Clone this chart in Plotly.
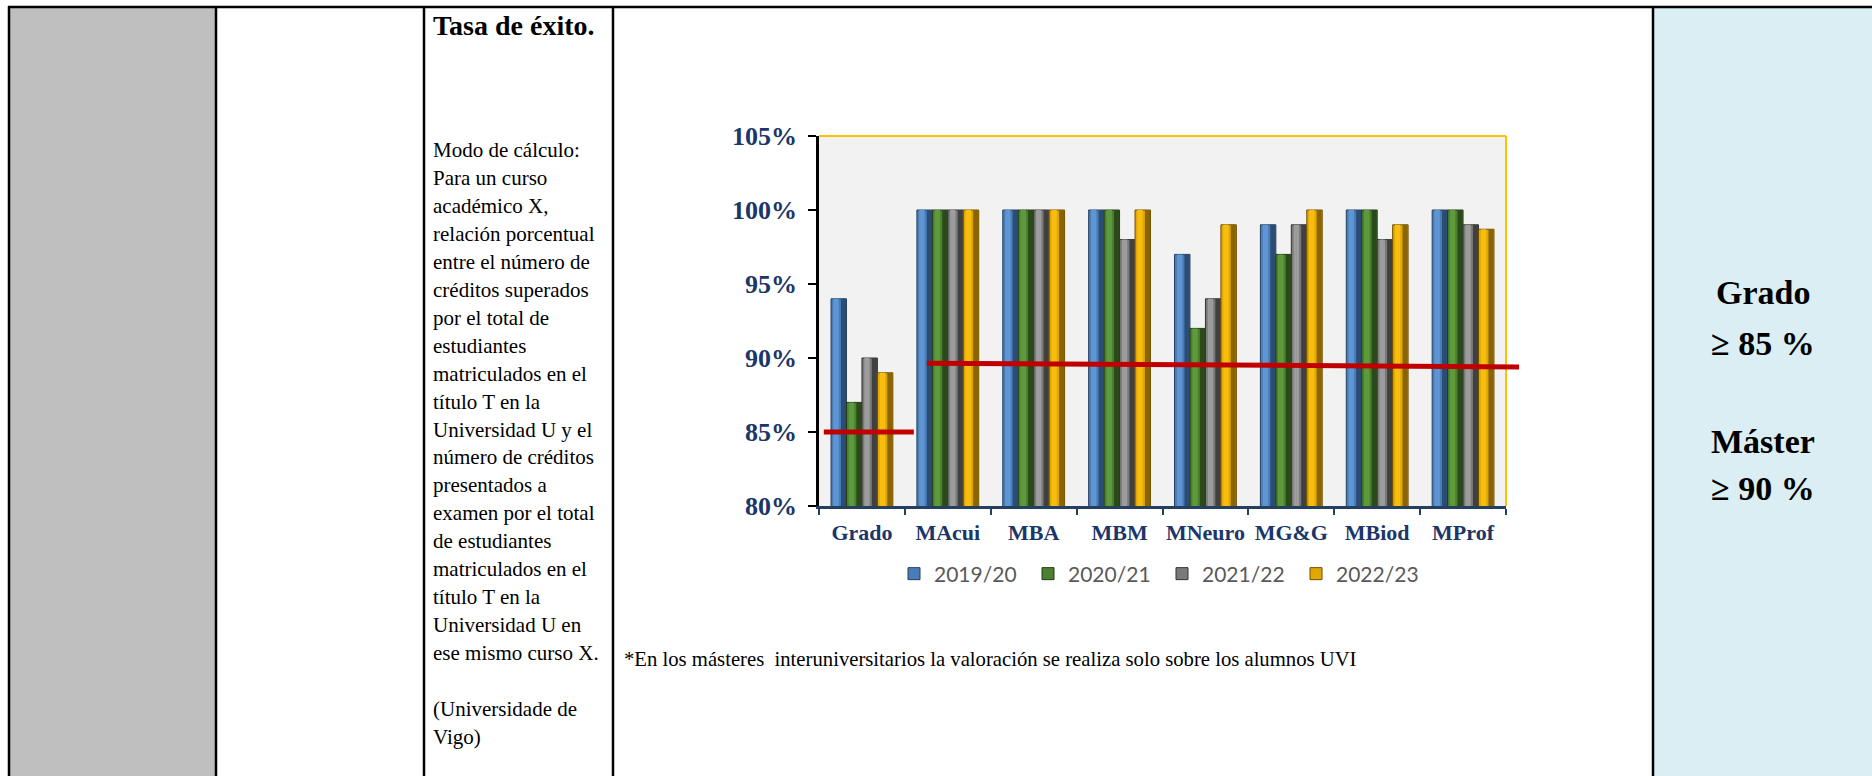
import plotly.graph_objects as go

W, H = 1872, 776

# ---------------- data ----------------
categories = ["Grado", "MAcui", "MBA", "MBM", "MNeuro", "MG&G", "MBiod", "MProf"]
years = ["2019/20", "2020/21", "2021/22", "2022/23"]
v2019_20 = [94, 100, 100, 100, 97, 99, 100, 100]
v2020_21 = [87, 100, 100, 100, 92, 97, 100, 100]
v2021_22 = [90, 100, 100, 98, 94, 99, 98, 99]
v2022_23 = [89, 100, 100, 100, 99, 100, 99, 98.7]
series = [v2019_20, v2020_21, v2021_22, v2022_23]
ytick_vals = [80, 85, 90, 95, 100, 105]
ytick_text = ["80%", "85%", "90%", "95%", "100%", "105%"]
target_grado = 85
target_master = [89.65, 89.4]  # hand-drawn line, start / end

title_text = "Tasa de éxito."
method_lines = [
    "Modo de cálculo:", "Para un curso", "académico X,", "relación porcentual",
    "entre el número de", "créditos superados", "por el total de", "estudiantes",
    "matriculados en el", "título T en la", "Universidad U y el", "número de créditos",
    "presentados a", "examen por el total", "de estudiantes", "matriculados en el",
    "título T en la", "Universidad U en", "ese mismo curso X.", "",
    "(Universidade de", "Vigo)",
]
note_text = "*En los másteres  interuniversitarios la valoración se realiza solo sobre los alumnos UVI"
goal_lines = ["Grado", "≥ 85 %", "Máster", "≥ 90 %"]

# ---------------- styles ----------------
bar_base = ["#4A7DB8", "#4A8030", "#7A7A7A", "#E0A800"]
bar_light = ["#5E96D4", "#5E9A3C", "#9C9C9C", "#F7BE10"]
bar_dark = ["#2B4C74", "#2A4A1A", "#404040", "#8A6400"]
bar_edge = ["#24405F", "#223B14", "#333333", "#6E5000"]
NAVY = "#1B3668"
SERIF = "Liberation Serif"
GROUP_W = 0.72
BAR_W = GROUP_W / len(series)


def px(x):
    return x / W


def py(y):
    return 1 - y / H


fig = go.Figure()
for k, (name, vals) in enumerate(zip(years, series)):
    off = -GROUP_W / 2 + k * BAR_W
    fig.add_trace(go.Bar(
        x=categories, y=vals, name=name, offset=off, width=BAR_W,
        marker=dict(color=bar_base[k], line=dict(color=bar_edge[k], width=1)),
    ))
    # cylinder-like shading stripes (style only)
    fig.add_trace(go.Bar(
        x=categories, y=vals, name=name, offset=off + 0.15 * BAR_W, width=0.35 * BAR_W,
        marker=dict(color=bar_light[k], line=dict(width=0)), showlegend=False, hoverinfo="skip",
    ))
    fig.add_trace(go.Bar(
        x=categories, y=vals, name=name, offset=off + 0.64 * BAR_W, width=0.33 * BAR_W,
        marker=dict(color=bar_dark[k], line=dict(width=0)), showlegend=False, hoverinfo="skip",
    ))

shapes = []
# table cell fills
shapes.append(dict(type="rect", xref="paper", yref="paper", x0=px(10), x1=px(215),
                   y0=py(776), y1=py(8), fillcolor="#BFBFBF", line=dict(width=0), layer="below"))
shapes.append(dict(type="rect", xref="paper", yref="paper", x0=px(1654), x1=px(1872),
                   y0=py(776), y1=py(8), fillcolor="#DAEEF3", line=dict(width=0), layer="below"))
# table borders
shapes.append(dict(type="line", xref="paper", yref="paper", x0=px(8), x1=px(1872),
                   y0=py(7), y1=py(7), line=dict(color="black", width=2.5)))
for xv in [9, 216, 424, 613, 1653]:
    shapes.append(dict(type="line", xref="paper", yref="paper", x0=px(xv), x1=px(xv),
                       y0=py(6), y1=py(776), line=dict(color="black", width=2.5)))
# gold plot border (top, right)
shapes.append(dict(type="line", xref="x domain", yref="y domain", x0=0, x1=1, y0=1, y1=1,
                   line=dict(color="#FFC000", width=2)))
shapes.append(dict(type="line", xref="x domain", yref="y domain", x0=1, x1=1, y0=0, y1=1,
                   line=dict(color="#FFC000", width=2)))
# target lines
shapes.append(dict(type="line", xref="x domain", yref="y", x0=0.007, x1=0.138,
                   y0=target_grado, y1=target_grado, line=dict(color="#C00000", width=5)))
shapes.append(dict(type="line", xref="x domain", yref="y", x0=0.157, x1=1.019,
                   y0=target_master[0], y1=target_master[1], line=dict(color="#C00000", width=5)))

annotations = []
annotations.append(dict(xref="paper", yref="paper", x=px(431), y=py(26), xanchor="left",
                        yanchor="middle", text=title_text, showarrow=False,
                        font=dict(family=SERIF, size=28, color="black", weight="bold")))
for i, ln in enumerate(method_lines):
    if not ln:
        continue
    annotations.append(dict(xref="paper", yref="paper", x=px(431), y=py(150 + i * 27.95),
                            xanchor="left", yanchor="middle", text=ln, showarrow=False,
                            font=dict(family=SERIF, size=21, color="black")))
annotations.append(dict(xref="paper", yref="paper", x=px(622), y=py(659), xanchor="left",
                        yanchor="middle", text=note_text, showarrow=False,
                        font=dict(family=SERIF, size=20.7, color="black")))
for txt, yy in zip(goal_lines, [292, 343, 441, 488]):
    annotations.append(dict(xref="paper", yref="paper", x=px(1763), y=py(yy), xanchor="center",
                            yanchor="middle", text=txt, showarrow=False,
                            font=dict(family=SERIF, size=34, color="black", weight="bold")))

fig.update_layout(
    template="none",
    width=W, height=H,
    autosize=False,
    margin=dict(l=0, r=0, t=0, b=0, pad=0, autoexpand=False),
    paper_bgcolor="white",
    plot_bgcolor="#F2F2F2",
    barmode="overlay",
    showlegend=True,
    legend=dict(orientation="h", x=px(1162), xanchor="center", y=py(574), yanchor="middle",
                font=dict(family="Lato", size=21, color="#595959"),
                entrywidth=89, entrywidthmode="pixels", bgcolor="rgba(0,0,0,0)",
                borderwidth=0),
    xaxis=dict(domain=[px(819), px(1506)], type="category", showline=True, automargin=False,
               range=[-0.5, len(categories) - 0.5],
               linecolor="#243F60", linewidth=2.5, ticks="outside", tickson="boundaries",
               ticklen=6, tickwidth=2, tickcolor="#243F60", showgrid=False, zeroline=False,
               tickangle=0,
               tickfont=dict(family=SERIF, size=22, color=NAVY, weight="bold"),
               ticklabelstandoff=5),
    yaxis=dict(domain=[py(506), py(136)], range=[80, 105], tickvals=ytick_vals, automargin=False,
               ticktext=ytick_text, showline=True, linecolor="black", linewidth=2.5,
               ticks="outside", ticklen=8, tickwidth=2, tickcolor="black", showgrid=False,
               zeroline=False, tickfont=dict(family=SERIF, size=26, color=NAVY, weight="bold"),
               ticklabelstandoff=6),
    shapes=shapes,
    annotations=annotations,
)

fig.write_html(
    "out.html",
    config={"displayModeBar": False},
    post_script="document.body.style.margin='0';document.body.style.padding='0';"
                "document.body.style.overflow='hidden';",
)
